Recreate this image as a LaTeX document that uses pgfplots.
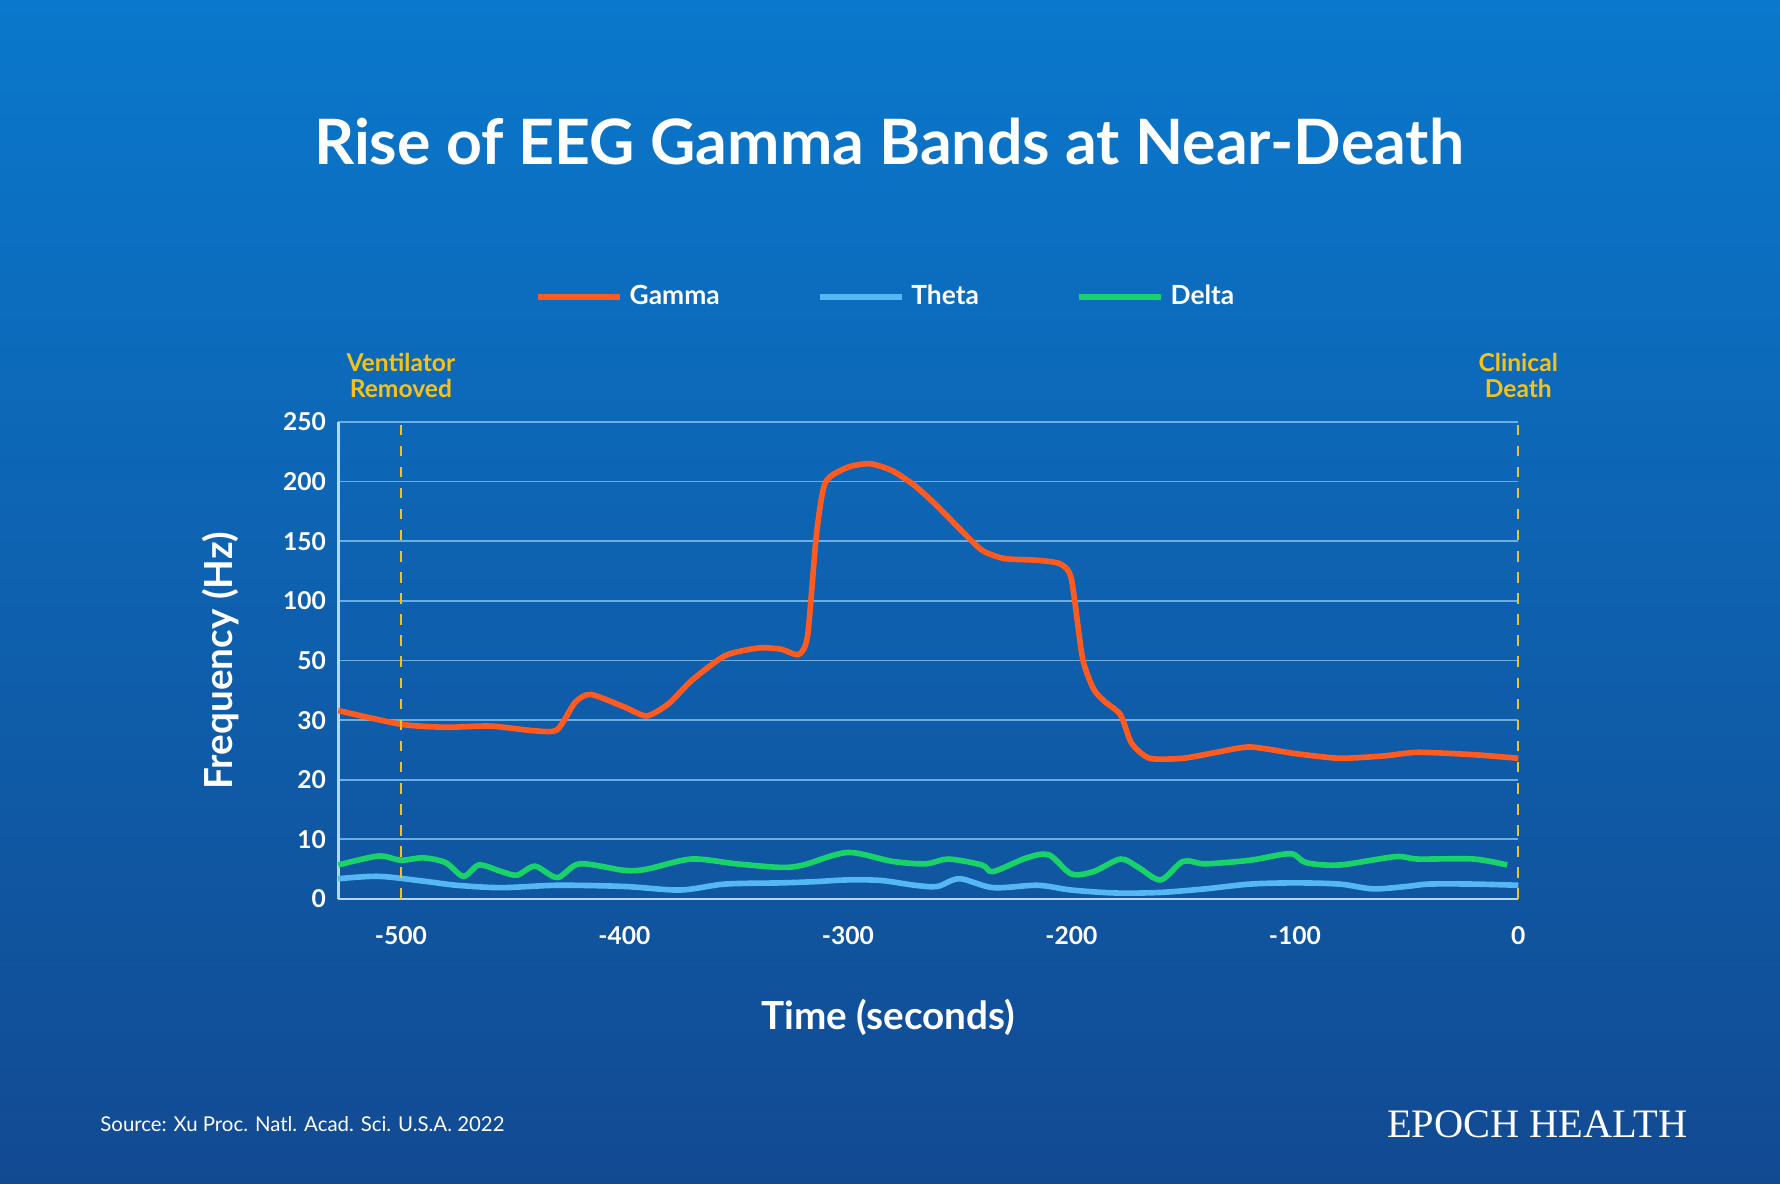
\documentclass[border=0pt]{standalone}
\usepackage{pgfplots}
\pgfplotsset{compat=1.18}
\usepackage{fontspec}
\setmainfont{Lato}
\newfontfamily\serif{Liberation Serif}
\definecolor{gam}{HTML}{FF5A1F}
\definecolor{the}{HTML}{55B8F5}
\definecolor{del}{HTML}{19D36A}
\definecolor{ochre}{HTML}{F5C21B}
\definecolor{bgA}{HTML}{0A78CC}
\definecolor{bgB}{HTML}{124A92}
\begin{document}
\begin{tikzpicture}
\shade[top color=bgA, bottom color=bgB] (0,0) rectangle (17.8,11.84);
\node[white,font=\fontsize{17.8}{21}\selectfont\bfseries] at (8.89,10.42) {Rise of EEG Gamma Bands at Near-Death};
\node[white,font=\fontsize{5.8}{7}\selectfont,anchor=west] at (0.88,0.6) {Source: Xu Proc. Natl. Acad. Sci. U.S.A. 2022};
\node[white,font=\fontsize{11.5}{14}\serif,anchor=east] at (17.0,0.6) {EPOCH HEALTH};
\begin{axis}[at={(3.383cm,2.85cm)}, anchor=south west, scale only axis,
 width=11.80cm, height=4.77cm,
 xmin=-528, xmax=0, ymin=0, ymax=8,
 xtick={-500,-400,-300,-200,-100,0},
 ytick={0,1,2,3,4,5,6,7,8},
 yticklabels={0,10,20,30,50,100,150,200,250},
 ymajorgrids, grid style={white!40!bgA, line width=0.5pt},
 axis line style={white!70!bgA, line width=0.8pt},
 axis x line*=bottom, axis y line*=left,
 tick style={draw=none},
 ticklabel style={white, font=\fontsize{7}{8}\selectfont\bfseries},
 xticklabel style={yshift=-0.15cm},
 xlabel={Time (seconds)}, ylabel={Frequency (Hz)},
 label style={white, font=\fontsize{11}{13}\selectfont\bfseries},
 xlabel style={yshift=-0.3cm, xshift=-0.4cm}, ylabel style={yshift=0.2cm},
 /pgf/number format/assume math mode=true,
 clip=false,
 legend style={at={(0.466,1.262)}, anchor=center, draw=none, fill=none,
   text=white, font=\fontsize{7.5}{9}\selectfont\bfseries, legend columns=3,
   /tikz/every even column/.append style={column sep=0.9cm}},
 legend image code/.code={\draw[#1, line width=1.6pt] (0cm,0cm) -- (0.82cm,0cm);},
]
\addplot[gam, line width=1.6pt, smooth, tension=0.4] coordinates {
(-528,3.16)(-500,2.93)(-480,2.88)(-460,2.9)(-440,2.82)(-430,2.84)(-422,3.3)(-415,3.43)(-400,3.22)(-390,3.07)(-380,3.28)(-370,3.66)(-355,4.08)(-340,4.21)(-330,4.19)(-322,4.1)(-318,4.42)(-314,6.13)(-310,6.99)(-300,7.24)(-290,7.3)(-280,7.18)(-270,6.93)(-260,6.59)(-250,6.21)(-240,5.85)(-230,5.71)(-215,5.68)(-205,5.62)(-200,5.37)(-195,4.04)(-190,3.52)(-185,3.31)(-178,3.09)(-173,2.61)(-165,2.36)(-150,2.36)(-135,2.46)(-120,2.55)(-100,2.44)(-80,2.36)(-60,2.4)(-45,2.46)(-20,2.42)(0,2.36)};
\addlegendentry{Gamma}
\addplot[the, line width=1.6pt, smooth] coordinates {
(-528,0.34)(-510,0.38)(-490,0.3)(-475,0.23)(-455,0.19)(-430,0.23)(-400,0.21)(-375,0.15)(-355,0.25)(-330,0.27)(-315,0.29)(-300,0.32)(-285,0.31)(-270,0.23)(-260,0.21)(-250,0.34)(-235,0.19)(-215,0.23)(-200,0.15)(-180,0.1)(-160,0.11)(-140,0.17)(-120,0.25)(-100,0.27)(-80,0.25)(-65,0.17)(-50,0.21)(-40,0.25)(-20,0.25)(0,0.23)};
\addlegendentry{Theta}
\addplot[del, line width=1.6pt, smooth] coordinates {
(-528,0.57)(-510,0.72)(-500,0.65)(-490,0.69)(-480,0.61)(-472,0.38)(-465,0.57)(-455,0.46)(-448,0.4)(-440,0.55)(-430,0.36)(-420,0.59)(-400,0.48)(-390,0.5)(-370,0.67)(-350,0.59)(-330,0.53)(-320,0.57)(-300,0.78)(-280,0.63)(-265,0.59)(-255,0.67)(-240,0.57)(-235,0.46)(-220,0.69)(-210,0.74)(-200,0.42)(-190,0.46)(-178,0.67)(-170,0.53)(-160,0.32)(-150,0.63)(-140,0.59)(-120,0.65)(-102,0.76)(-95,0.61)(-80,0.57)(-55,0.71)(-45,0.67)(-20,0.67)(-5,0.57)};
\addlegendentry{Delta}
\draw[ochre, dashed, line width=0.6pt] (axis cs:-500,0) -- (axis cs:-500,8);
\draw[ochre, dashed, line width=0.6pt] (axis cs:0,0) -- (axis cs:0,8);
\node[ochre, align=center, font=\fontsize{7}{7.5}\selectfont\bfseries, anchor=south] at (axis cs:-500,8.2) {Ventilator\\Removed};
\node[ochre, align=center, font=\fontsize{7}{7.5}\selectfont\bfseries, anchor=south] at (axis cs:0,8.2) {Clinical\\Death};
\end{axis}
\end{tikzpicture}
\end{document}
